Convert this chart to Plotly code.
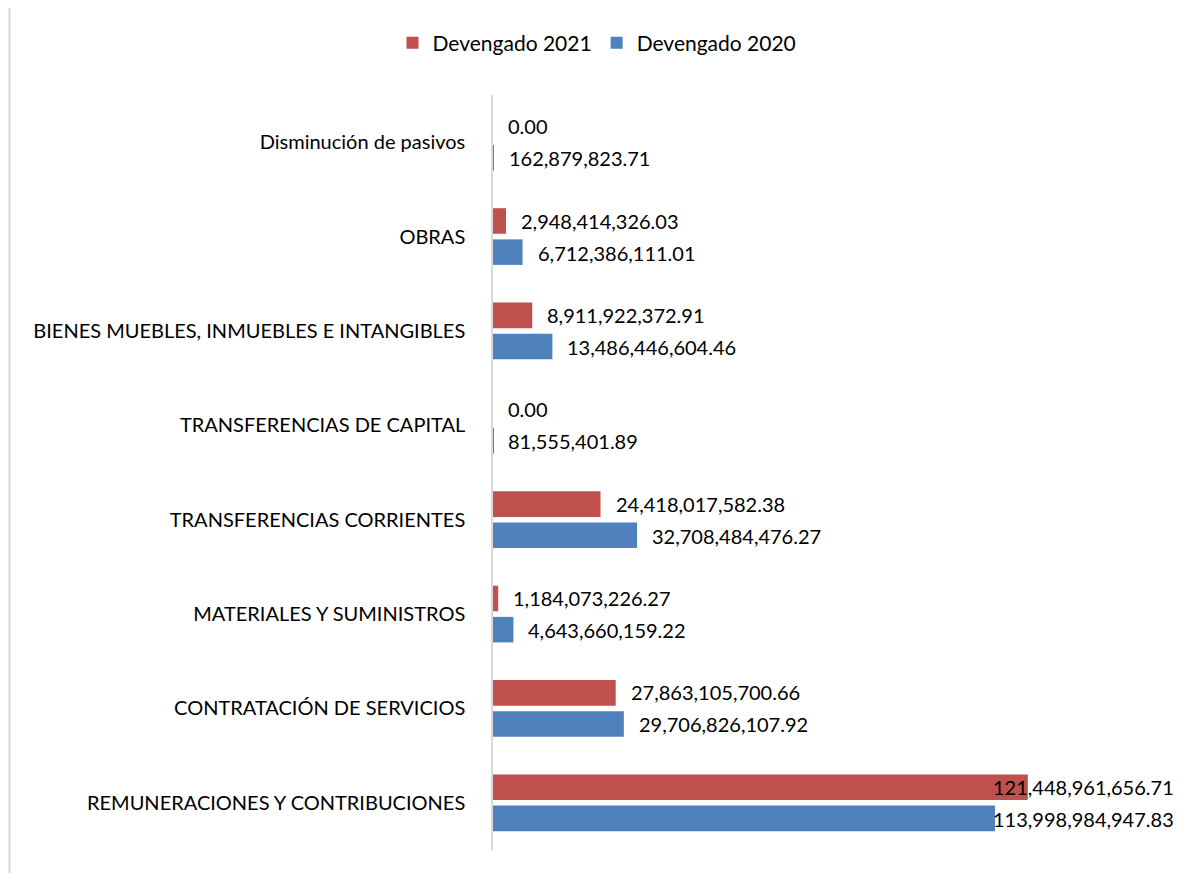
import plotly.graph_objects as go

categories = [
    "REMUNERACIONES Y CONTRIBUCIONES",
    "CONTRATACIÓN DE SERVICIOS",
    "MATERIALES Y SUMINISTROS",
    "TRANSFERENCIAS CORRIENTES",
    "TRANSFERENCIAS DE CAPITAL",
    "BIENES MUEBLES, INMUEBLES E INTANGIBLES",
    "OBRAS",
    "Disminución de pasivos",
]
devengado_2021 = [121448961656.71, 27863105700.66, 1184073226.27, 24418017582.38,
                  0.00, 8911922372.91, 2948414326.03, 0.00]
devengado_2020 = [113998984947.83, 29706826107.92, 4643660159.22, 32708484476.27,
                  81555401.89, 13486446604.46, 6712386111.01, 162879823.71]

RED = "#C0504D"
BLUE = "#4F81BD"
FONT = "Lato"
XMAX = 155.1e9

# page body has an 8px margin; figure laid out so plot sits at screen x 493..1176, y 95..850
W, H = 1173, 867
ML, MR, MT, MB = 485, 5, 87, 25
PW = W - ML - MR
PH = H - MT - MB

fig = go.Figure()
fig.add_trace(go.Bar(y=categories, x=devengado_2020, orientation="h", name="Devengado 2020",
                     marker=dict(color=BLUE, line=dict(width=0)), hoverinfo="x+y"))
fig.add_trace(go.Bar(y=categories, x=devengado_2021, orientation="h", name="Devengado 2021",
                     marker=dict(color=RED, line=dict(width=0)), hoverinfo="x+y"))

def fmt(v):
    return f"{v:,.2f}"

annotations = []
for series, shift in ((devengado_2021, 16), (devengado_2020, -16)):
    for cat, v in zip(categories, series):
        if v > 0.7 * XMAX:
            annotations.append(dict(x=1, xref="paper", y=cat, yref="y", yshift=shift,
                                    text=fmt(v), showarrow=False, xanchor="right",
                                    font=dict(family=FONT, size=20, color="#000")))
        else:
            annotations.append(dict(x=v, xref="x", y=cat, yref="y", yshift=shift, xshift=13,
                                    text=fmt(v), showarrow=False, xanchor="left",
                                    font=dict(family=FONT, size=20, color="#000")))

fig.update_layout(
    width=W, height=H,
    margin=dict(l=ML, r=MR, t=MT, b=MB),
    paper_bgcolor="white", plot_bgcolor="white",
    barmode="group", bargap=0.34, bargroupgap=0.18,
    font=dict(family=FONT, size=20, color="#000"),
    legend=dict(orientation="h", x=(597 - 493) / PW, xanchor="center",
                y=(850 - 43) / PH, yanchor="middle",
                traceorder="reversed", font=dict(family=FONT, size=21, color="#000"),
                itemwidth=30),
    xaxis=dict(range=[0, XMAX], visible=False, showgrid=False, zeroline=False),
    yaxis=dict(showline=True, linecolor="#D9D9D9", linewidth=1.5, showgrid=False,
               ticks="", ticklabelstandoff=22, tickfont=dict(family=FONT, size=20, color="#000")),
    annotations=annotations,
    shapes=[dict(type="line", xref="paper", yref="paper",
                 x0=(1.5 - ML) / PW, x1=(1.5 - ML) / PW,
                 y0=(PH + MT - (H - 2)) / PH, y1=(PH + MT - 0) / PH,
                 line=dict(color="#D9D9D9", width=2))],
)

fig.write_html("out.html")
